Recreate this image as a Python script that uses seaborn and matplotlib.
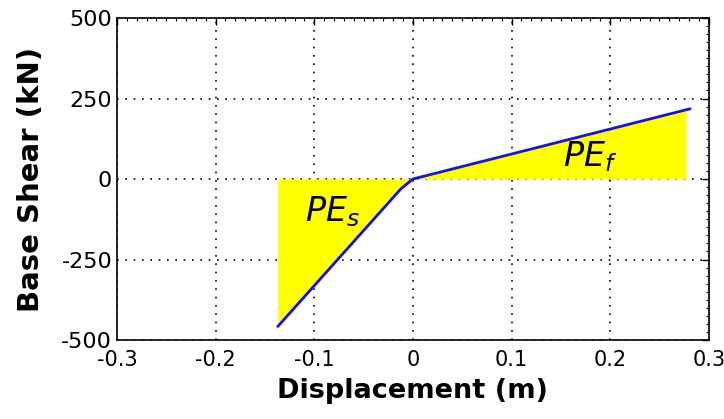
import numpy as np
import pandas as pd
import matplotlib as mpl
import matplotlib.pyplot as plt
import seaborn as sns

# pushover curve (displacement in m, base shear in kN)
disp = [-0.137, -0.012, 0.0, 0.281]
shear = [-458, -30, 0, 218]

# shaded energy areas
pe_s_x = [-0.137, -0.012, 0.0]
pe_s_y = [-458, -30, 0]
pe_f_x = [0.0, 0.277]
pe_f_y = [0, 212]

xticks = [-0.3, -0.2, -0.1, 0, 0.1, 0.2, 0.3]
xticklabels = ["-0.3", "-0.2", "-0.1", "0", "0.1", "0.2", "0.3"]
yticks = [-500, -250, 0, 250, 500]

sns.set_style("white")
plt.rcParams['font.family'] = ['DejaVu Sans']
plt.rcParams['axes.unicode_minus'] = False
plt.rcParams['text.color'] = 'black'
plt.rcParams['axes.labelcolor'] = 'black'
plt.rcParams['mathtext.fontset'] = 'dejavusans'

f = plt.figure(figsize=(7.24, 4.19), dpi=100)
ax = f.add_axes([0.1616, 0.1885, 0.8174, 0.7685])

ax.fill_between(pe_s_x, pe_s_y, 0, color="#ffff00", linewidth=0, zorder=1)
ax.fill_between(pe_f_x, pe_f_y, 0, color="#ffff00", linewidth=0, zorder=1)

data = pd.DataFrame({"disp": disp, "shear": shear})
sns.lineplot(x="disp", y="shear", data=data, color="#1010ff", linewidth=2,
             sort=False, ax=ax, zorder=3)

ax.text(-0.082, -100, "$PE_s$", fontsize=24, ha="center", va="center",
        color="black", zorder=4)
ax.text(0.18, 68, "$PE_f$", fontsize=24, ha="center", va="center",
        color="black", zorder=4)

ax.set_xlim(-0.3, 0.3)
ax.set_ylim(-500, 500)
ax.set_xticks(xticks)
ax.set_xticklabels(xticklabels)
ax.set_yticks(yticks)
ax.xaxis.set_minor_locator(mpl.ticker.MultipleLocator(0.01))
ax.yaxis.set_minor_locator(mpl.ticker.MultipleLocator(25))
ax.tick_params(which="both", direction="in", top=True, right=True,
               colors="black")
ax.tick_params(axis="y", labelsize=16)
ax.tick_params(axis="x", labelsize=15)
ax.tick_params(which="major", length=5, width=1)
ax.tick_params(which="minor", length=2.5, width=0.8)
ax.tick_params(axis="x", which="major", pad=7)

ax.grid(True, which="major", color="black", linestyle=(0, (1, 4)), linewidth=1.2, zorder=0)
ax.set_axisbelow(True)
for s in ax.spines.values():
    s.set_color("black")
    s.set_linewidth(1.2)

ax.set_xlabel("Displacement (m)", fontsize=19.5, fontweight="bold", labelpad=6)
ax.set_ylabel("Base Shear (kN)", fontsize=21, fontweight="bold", labelpad=12)

plt.savefig("out.png", dpi=100)
